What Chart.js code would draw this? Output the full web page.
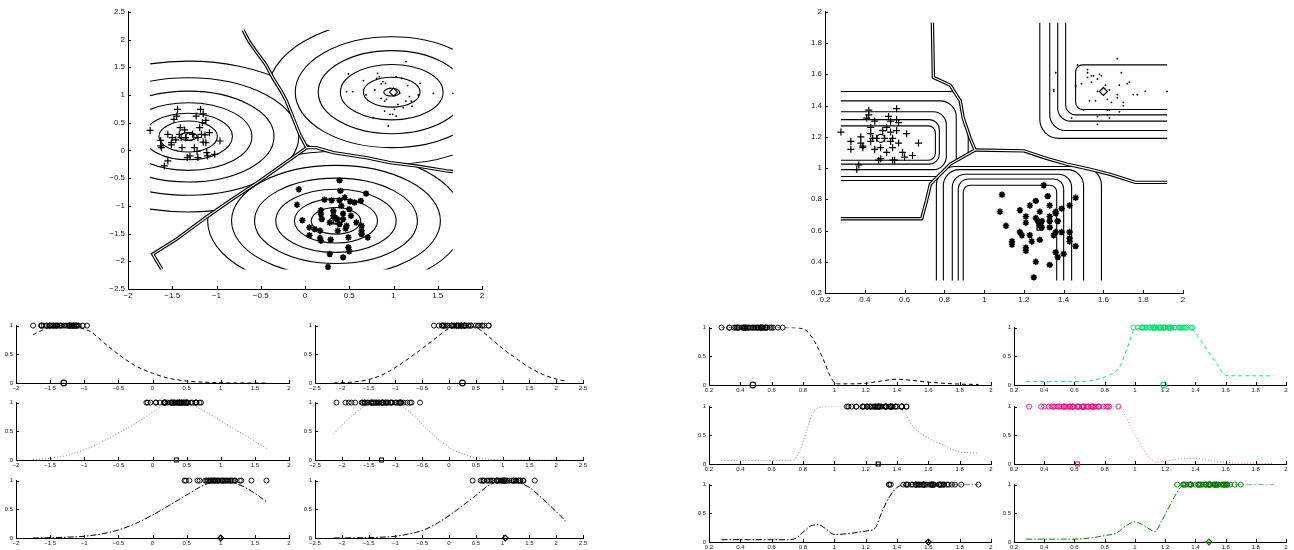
<!DOCTYPE html>
<html>
<head>
<meta charset="utf-8">
<script src="https://cdn.jsdelivr.net/npm/chart.js@4.4.0/dist/chart.umd.min.js"></script>
<style>
  html, body { margin: 0; padding: 0; background: #fff; }
  #wrap { position: relative; width: 1294px; height: 550px; overflow: hidden; background: #fff; }
  canvas { position: absolute; }
</style>
</head>
<body>
<div id="wrap"></div>
<script>
// ---- data ----

// left scatter: three clusters (+, *, .)
const L1 = [[-1.75,0.36],[-1.63,0.18],[-1.63,0.08],[-1.62,0.05],[-1.55,0.29],[-1.51,0.14],[-1.51,0.10],[-1.50,0.23],[-1.55,-0.19],[-1.59,-0.28],[-1.48,0.56],[-1.45,0.62],[-1.44,0.74],[-1.42,0.29],[-1.41,0.41],[-1.39,0.05],[-1.40,0.23],[-1.35,0.23],[-1.33,-0.13],[-1.30,-0.10],[-1.27,0.29],[-1.25,0.05],[-1.23,0.62],[-1.21,0.23],[-1.21,-0.13],[-1.19,0.41],[-1.18,0.74],[-1.17,0.29],[-1.16,0.50],[-1.15,0.66],[-1.15,0.15],[-1.12,0.54],[-1.12,0.14],[-1.11,-0.04],[-1.10,-0.10],[-1.08,0.32],[-1.02,-0.07],[-0.96,0.17],[-1.22,-0.02],[-1.46,0.19],[-1.36,0.37],[-1.13,0.28]];
const L2 = [[-0.07,-0.70],[-0.09,-0.98],[-0.03,-1.26],[0.05,-1.39],[0.05,-1.53],[0.11,-1.42],[0.17,-1.45],[0.17,-1.58],[0.18,-1.63],[0.18,-1.15],[0.18,-1.08],[0.19,-1.24],[0.22,-0.89],[0.28,-1.87],[0.29,-1.61],[0.30,-0.90],[0.32,-1.09],[0.32,-1.18],[0.34,-1.21],[0.36,-1.24],[0.37,-1.45],[0.39,-0.54],[0.39,-0.90],[0.40,-0.73],[0.41,-1.00],[0.43,-1.14],[0.43,-1.24],[0.45,-0.85],[0.46,-1.41],[0.47,-1.36],[0.49,-1.57],[0.49,-1.75],[0.50,-1.82],[0.50,-1.06],[0.51,-0.92],[0.52,-1.18],[0.56,-0.94],[0.58,-1.30],[0.63,-0.91],[0.64,-1.36],[0.64,-1.45],[0.64,-1.51],[0.69,-0.78],[0.71,-1.57],[0.43,-1.93],[0.26,-2.10],[0.39,-1.33],[0.28,-1.30]];
const L3 = [[0.47,1.06],[0.49,1.38],[0.54,1.06],[0.66,1.26],[0.69,1.00],[0.77,0.59],[0.79,1.09],[0.81,1.30],[0.82,1.39],[0.84,1.33],[0.86,1.20],[0.88,1.24],[0.90,0.89],[0.92,0.92],[0.91,1.21],[0.94,0.44],[0.96,0.65],[0.99,0.65],[1.01,0.74],[1.03,0.62],[1.03,1.33],[1.05,0.83],[1.07,1.03],[1.09,1.30],[1.11,0.77],[1.14,1.60],[1.14,0.89],[1.16,1.17],[1.18,0.97],[1.20,0.89],[1.21,0.80],[1.28,1.00],[1.30,1.21],[1.45,1.03],[1.67,1.03],[0.90,0.71],[0.96,1.12],[0.86,0.94]];
const LCEN = [[-1.3,0.25],[0.35,-1.26],[1.0,1.05]];

// left scatter: decision boundaries
const LB1 = [[0.02,0.05],[-0.06,0.29],[-0.12,0.53],[-0.21,0.89],[-0.27,1.07],[-0.36,1.30],[-0.44,1.54],[-0.55,1.78],[-0.63,1.96],[-0.70,2.17]];
const LB2 = [[0.02,0.05],[0.13,0.05],[0.32,-0.04],[0.69,-0.13],[0.96,-0.22],[1.26,-0.28],[1.60,-0.37],[1.67,-0.38]];
const LB3 = [[0.02,0.05],[-0.51,-0.55],[-0.85,-0.91],[-1.12,-1.21],[-1.45,-1.60],[-1.72,-1.87],[-1.62,-2.14]];

// left scatter: contour ellipses (centre, x radii, y radii)
const LE1 = { c: [-1.32,0.25], rx: [0.1,0.33,0.5,0.72,0.97,1.25,1.6], ry: [0.07,0.28,0.42,0.61,0.82,1.06,1.36] };
const LE2 = { c: [0.35,-1.27], rx: [0.08,0.28,0.47,0.68,0.92,1.18,1.45], ry: [0.06,0.24,0.4,0.57,0.77,1.0,1.25] };
const LE3 = { c: [0.98,1.05], rx: [0.09,0.32,0.58,0.83,1.09,1.4], ry: [0.07,0.27,0.5,0.75,1.0,1.3] };

// right scatter: three clusters
const R1 = [[0.28,1.23],[0.33,1.17],[0.33,1.12],[0.36,0.99],[0.37,1.02],[0.38,1.20],[0.38,1.16],[0.39,1.14],[0.39,1.13],[0.41,1.32],[0.42,1.34],[0.42,1.37],[0.43,1.22],[0.43,1.17],[0.43,1.26],[0.44,1.19],[0.45,1.12],[0.45,1.30],[0.46,1.19],[0.47,1.05],[0.48,1.06],[0.49,1.24],[0.50,1.19],[0.51,1.26],[0.51,1.10],[0.52,1.33],[0.53,1.17],[0.53,1.30],[0.54,1.05],[0.54,1.13],[0.55,1.05],[0.56,1.38],[0.56,1.31],[0.56,1.24],[0.57,1.16],[0.57,1.29],[0.59,1.10],[0.60,1.07],[0.61,1.22],[0.64,1.08],[0.67,1.16],[0.53,1.23],[0.54,1.19],[0.48,1.13]];
const R2 = [[1.30,0.89],[1.09,0.83],[1.32,0.82],[1.46,0.81],[1.26,0.79],[1.23,0.76],[1.33,0.76],[1.43,0.76],[1.39,0.74],[1.18,0.73],[1.28,0.72],[1.36,0.72],[1.36,0.71],[1.21,0.69],[1.33,0.69],[1.26,0.68],[1.27,0.66],[1.29,0.66],[1.28,0.65],[1.33,0.66],[1.37,0.66],[1.28,0.63],[1.29,0.62],[1.21,0.65],[1.33,0.62],[1.11,0.63],[1.18,0.59],[1.19,0.57],[1.36,0.59],[1.35,0.57],[1.39,0.59],[1.43,0.59],[1.43,0.55],[1.43,0.53],[1.46,0.50],[1.23,0.57],[1.24,0.53],[1.28,0.54],[1.14,0.53],[1.14,0.51],[1.21,0.49],[1.21,0.47],[1.36,0.46],[1.37,0.43],[1.40,0.45],[1.26,0.40],[1.33,0.38],[1.25,0.30],[1.08,0.72]];
const R3 = [[1.67,1.70],[1.47,1.66],[1.36,1.61],[1.52,1.63],[1.52,1.61],[1.54,1.59],[1.55,1.59],[1.58,1.60],[1.59,1.59],[1.52,1.58],[1.57,1.57],[1.54,1.55],[1.69,1.61],[1.49,1.54],[1.46,1.53],[1.46,1.52],[1.61,1.53],[1.68,1.53],[1.73,1.55],[1.72,1.54],[1.57,1.49],[1.63,1.50],[1.35,1.50],[1.35,1.49],[1.77,1.47],[1.75,1.47],[1.81,1.49],[1.92,1.49],[1.67,1.47],[1.67,1.45],[1.53,1.43],[1.56,1.43],[1.62,1.44],[1.64,1.42],[1.70,1.42],[1.70,1.40],[1.50,1.37],[1.62,1.37],[1.63,1.37],[1.68,1.36],[1.44,1.32],[1.57,1.33],[1.62,1.34],[1.63,1.32],[1.57,1.28]];
const RCEN = [[0.48,1.19],[1.28,0.62],[1.6,1.49]];

// right scatter: decision boundaries
const RB1 = [[0.955,1.115],[0.93,1.19],[0.895,1.32],[0.88,1.43],[0.83,1.53],[0.745,1.58],[0.74,1.93]];
const RB2 = [[0.955,1.115],[1.2,1.11],[1.3,1.067],[1.415,1.025],[1.53,0.993],[1.633,0.96],[1.76,0.908],[1.92,0.908]];
const RB3 = [[0.955,1.115],[0.83,1.025],[0.73,0.897],[0.71,0.79],[0.686,0.675],[0.28,0.675]];

// right scatter: rounded-rectangle contours [x0, x1, y0, y1]
const RR1 = [[-1,0.755,1.05,1.27],[-1,0.775,1.025,1.31],[-1,0.81,0.99,1.36],[-1,0.86,0.946,1.43],[-1,0.92,0.92,1.49]];
const RR2 = [[0.895,1.365,-1,0.89],[0.87,1.40,-1,0.93],[0.84,1.44,-1,0.96],[0.795,1.50,-1,0.99],[0.76,1.59,-1,1.01]];
const RR3 = [[1.46,3,1.375,1.66],[1.41,3,1.34,3],[1.37,3,1.30,3],[1.33,3,1.24,3],[1.28,3,1.19,3]];

// membership curves, left group
const LC1x = [-1.75,-1.6,-1.5,-1.4,-1.3,-1.2,-1.1,-1.0,-0.9,-0.75,-0.5,-0.25,0,0.25,0.5,0.75,1.0,1.25,1.5,1.67];
const LC1y = [0.84,0.93,0.97,0.99,1,0.99,0.97,0.94,0.89,0.74,0.5,0.3,0.17,0.08,0.035,0.015,0.005,0,0,0];
const LC2x = [-1.75,-1.5,-1.25,-1,-0.75,-0.5,-0.25,0,0.15,0.35,0.55,0.75,1,1.25,1.5,1.67];
const LC2y = [0.01,0.03,0.08,0.18,0.31,0.47,0.64,0.83,0.95,1,0.97,0.86,0.68,0.5,0.33,0.2];
const LC3x = [-1.75,-1.5,-1.25,-1,-0.75,-0.5,-0.25,0,0.25,0.5,0.75,0.9,1,1.1,1.25,1.5,1.67];
const LC3y = [0,0.005,0.015,0.03,0.07,0.14,0.25,0.4,0.57,0.75,0.92,0.98,1,0.99,0.94,0.78,0.63];
const LD1x = [-2.15,-1.75,-1.5,-1.25,-1,-0.75,-0.5,-0.25,0,0.25,0.5,0.75,1,1.25,1.5,1.75,2,2.2];
const LD1y = [0,0.02,0.06,0.14,0.27,0.43,0.6,0.78,0.95,1,0.97,0.8,0.6,0.43,0.27,0.15,0.07,0.03];
const LD2x = [-2.15,-2,-1.75,-1.5,-1.25,-1,-0.75,-0.5,-0.25,0,0.25,0.5,0.75,1,1.5,2,2.2];
const LD2y = [0.46,0.6,0.82,0.97,1,0.97,0.85,0.62,0.4,0.22,0.11,0.04,0.015,0.005,0,0,0];
const LD3x = [-2.15,-1.75,-1.5,-1.25,-1,-0.75,-0.5,-0.25,0,0.25,0.5,0.75,1,1.25,1.5,1.75,2,2.2];
const LD3y = [0,0.003,0.007,0.015,0.03,0.07,0.13,0.24,0.39,0.56,0.74,0.92,1,0.98,0.88,0.68,0.46,0.27];

// membership curves, right group
const RC1x = [0.28,0.4,0.5,0.6,0.7,0.78,0.82,0.86,0.9,0.94,0.98,1.02,1.1,1.2,1.3,1.4,1.5,1.6,1.7,1.8,1.92];
const RC1y = [1,1,1,1,1,0.99,0.95,0.82,0.62,0.38,0.12,0.02,0.02,0.03,0.07,0.1,0.08,0.05,0.03,0.015,0.01];
const RC2x = [0.28,0.4,0.5,0.6,0.7,0.74,0.78,0.82,0.86,0.9,1,1.1,1.2,1.3,1.4,1.45,1.5,1.6,1.7,1.8,1.92];
const RC2y = [0.06,0.06,0.06,0.06,0.06,0.07,0.24,0.55,0.87,0.98,1,1,1,1,1,0.88,0.66,0.45,0.33,0.21,0.19];
const RC3x = [0.28,0.4,0.5,0.6,0.7,0.75,0.8,0.85,0.9,0.95,1.0,1.1,1.2,1.26,1.3,1.35,1.42,1.5,1.7,1.92];
const RC3y = [0.04,0.04,0.04,0.04,0.04,0.06,0.17,0.28,0.3,0.22,0.13,0.15,0.19,0.24,0.5,0.78,0.98,1,1,1];
const RD1x = [0.28,0.4,0.5,0.6,0.66,0.75,0.8,0.85,0.9,0.95,1.0,1.1,1.2,1.3,1.36,1.42,1.48,1.54,1.6,1.7,1.8,1.92];
const RD1y = [0.06,0.06,0.06,0.06,0.06,0.1,0.14,0.2,0.32,0.65,0.97,1,1,1,1,0.84,0.6,0.38,0.17,0.16,0.16,0.16];
const RD2x = [0.28,0.5,0.7,0.89,0.94,0.98,1.02,1.06,1.1,1.14,1.2,1.3,1.35,1.4,1.5,1.6,1.7,1.8,1.92];
const RD2y = [1,1,1,1,0.82,0.6,0.42,0.24,0.1,0.03,0.05,0.09,0.1,0.1,0.06,0.03,0.015,0.01,0.01];
const RD3x = [0.28,0.4,0.5,0.6,0.7,0.8,0.88,0.94,1.0,1.05,1.1,1.13,1.18,1.22,1.26,1.3,1.35,1.5,1.7,1.92];
const RD3y = [0.05,0.05,0.05,0.05,0.07,0.11,0.16,0.28,0.35,0.3,0.22,0.18,0.38,0.58,0.78,0.95,1,1,1,1];

// tick labels
const ticksL = [-2,-1.5,-1,-0.5,0,0.5,1,1.5,2];
const ticksL5 = [-2.5,-2,-1.5,-1,-0.5,0,0.5,1,1.5,2,2.5];
const ticksR = [0.2,0.4,0.6,0.8,1,1.2,1.4,1.6,1.8,2];
const ticks01 = [0,0.5,1];

// ---- helpers ----
const FONT = "'Liberation Sans', Arial, sans-serif";
const wrap = document.getElementById('wrap');

function fmt(v) {
  return String(Math.round(v * 100) / 100).replace('-', '\u2212');
}

function addCanvas(x, y, w, h) {
  const c = document.createElement('canvas');
  c.width = w; c.height = h;
  c.style.left = x + 'px'; c.style.top = y + 'px';
  c.style.width = w + 'px'; c.style.height = h + 'px';
  wrap.appendChild(c);
  return c;
}

function xy(arr) { return arr.map(p => ({ x: p[0], y: p[1] })); }
function curve(xs, ys) { return xs.map((v, i) => ({ x: v, y: ys[i] })); }

// small inward tick marks, MATLAB style
const inTicks = {
  id: 'inTicks',
  afterDraw(chart) {
    const { ctx, chartArea: a, scales: { x, y } } = chart;
    ctx.save();
    ctx.strokeStyle = '#000';
    ctx.lineWidth = 1;
    x.ticks.forEach(t => {
      const p = Math.round(x.getPixelForValue(t.value)) + 0.5;
      ctx.beginPath(); ctx.moveTo(p, a.bottom); ctx.lineTo(p, a.bottom - 3); ctx.stroke();
    });
    y.ticks.forEach(t => {
      const p = Math.round(y.getPixelForValue(t.value)) + 0.5;
      ctx.beginPath(); ctx.moveTo(a.left, p); ctx.lineTo(a.left + 3, p); ctx.stroke();
    });
    ctx.restore();
  }
};

function axes(xmin, xmax, xt, ymin, ymax, yt, fs, yw, xh) {
  const tk = { font: { family: FONT, size: fs }, color: '#222', autoSkip: false, maxRotation: 0, callback: v => fmt(v) };
  return {
    x: {
      type: 'linear', min: xmin, max: xmax,
      afterBuildTicks: s => { s.ticks = xt.map(v => ({ value: v })); },
      afterFit: s => { s.height = xh; },
      grid: { display: false, drawTicks: false },
      border: { display: true, color: '#000', width: 1 },
      ticks: Object.assign({ padding: 2 }, tk)
    },
    y: {
      type: 'linear', min: ymin, max: ymax,
      afterBuildTicks: s => { s.ticks = yt.map(v => ({ value: v })); },
      afterFit: s => { s.width = yw; },
      grid: { display: false, drawTicks: false },
      border: { display: true, color: '#000', width: 1 },
      ticks: Object.assign({ padding: 3 }, tk)
    }
  };
}

function baseOptions(scales, pad) {
  return {
    responsive: false, animation: false, events: [],
    layout: { padding: pad },
    plugins: { legend: { display: false }, tooltip: { enabled: false } },
    scales: scales
  };
}

// contour layer clipped to each cluster's region
function contourPlugin(domain, regions) {
  return {
    id: 'contours',
    beforeDatasetsDraw(chart) {
      const { ctx, scales: { x, y } } = chart;
      const px = v => x.getPixelForValue(v), py = v => y.getPixelForValue(v);
      ctx.save();
      ctx.beginPath();
      ctx.rect(px(domain[0]), py(domain[3]), px(domain[1]) - px(domain[0]), py(domain[2]) - py(domain[3]));
      ctx.clip();
      ctx.strokeStyle = '#000';
      ctx.lineWidth = 1.1;
      regions.forEach(reg => {
        ctx.save();
        ctx.beginPath();
        reg.poly.forEach((p, i) => i ? ctx.lineTo(px(p[0]), py(p[1])) : ctx.moveTo(px(p[0]), py(p[1])));
        ctx.closePath();
        ctx.clip();
        reg.draw(ctx, px, py);
        ctx.restore();
      });
      ctx.restore();
    }
  };
}

function ellipses(e) {
  return (ctx, px, py) => {
    const cx = px(e.c[0]), cy = py(e.c[1]);
    e.rx.forEach((r, i) => {
      ctx.beginPath();
      ctx.ellipse(cx, cy, Math.abs(px(e.c[0] + r) - cx), Math.abs(py(e.c[1] + e.ry[i]) - cy), 0, 0, Math.PI * 2);
      ctx.stroke();
    });
  };
}

function roundRects(list) {
  return (ctx, px, py) => {
    list.forEach((q, i) => {
      const l = px(q[0]), r = px(q[1]), t = py(q[3]), b = py(q[2]);
      const rad = Math.min(7 + i * 3, (r - l) / 2, (b - t) / 2);
      ctx.beginPath();
      ctx.moveTo(l + rad, t);
      ctx.arcTo(r, t, r, b, rad);
      ctx.arcTo(r, b, l, b, rad);
      ctx.arcTo(l, b, l, t, rad);
      ctx.arcTo(l, t, r, t, rad);
      ctx.closePath();
      ctx.stroke();
    });
  };
}

function boundarySets(list) {
  const out = [];
  list.forEach(b => {
    out.push({ data: xy(b), showLine: true, borderColor: '#000', borderWidth: 3.4, pointRadius: 0, order: 6 });
    out.push({ data: xy(b), showLine: true, borderColor: '#fff', borderWidth: 1.1, pointRadius: 0, order: 5 });
  });
  return out;
}

function rev(a) { return a.slice().reverse(); }

// ---- top-left scatter ----
(function () {
  const box = { l: 128, t: 10, r: 482, b: 289 }, YW = 28, XH = 16, PT = 6, PR = 14;
  const c = addCanvas(box.l - YW, box.t - PT, box.r - box.l + YW + PR, box.b - box.t + PT + XH);
  const J = LB1[0];
  const regions = [
    { poly: [[-0.70, 3]].concat(rev(LB1), LB3.slice(1), [[-1.62, -3], [-3, -3], [-3, 3]]), draw: ellipses(LE1) },
    { poly: LB2.concat([[3, -0.38], [3, -3], [-1.62, -3]], rev(LB3).slice(0, -1)), draw: ellipses(LE2) },
    { poly: LB1.concat([[-0.70, 3], [3, 3], [3, -0.38]], rev(LB2).slice(0, -1)), draw: ellipses(LE3) }
  ];
  const ds = [
    { data: xy(LCEN.slice(0, 1)), pointStyle: 'circle', pointRadius: 4, borderColor: '#000', backgroundColor: 'rgba(0,0,0,0)', borderWidth: 1.2, order: 0 },
    { data: xy(LCEN.slice(1, 2)), pointStyle: 'rect', pointRadius: 4, borderColor: '#000', backgroundColor: 'rgba(0,0,0,0)', borderWidth: 1.2, order: 0 },
    { data: xy(LCEN.slice(2, 3)), pointStyle: 'rectRot', pointRadius: 4, borderColor: '#000', backgroundColor: 'rgba(0,0,0,0)', borderWidth: 1.2, order: 0 },
    { data: xy(L1), pointStyle: 'cross', pointRadius: 3.5, borderColor: '#000', borderWidth: 1.2, order: 1 },
    { data: xy(L2), pointStyle: 'star', pointRadius: 3.2, borderColor: '#000', borderWidth: 1.6, order: 1 },
    { data: xy(L3), pointStyle: 'circle', pointRadius: 0.9, borderWidth: 0, backgroundColor: '#000', order: 1 }
  ].concat(boundarySets([LB1, LB2, LB3]));
  new Chart(c, {
    type: 'scatter',
    data: { datasets: ds },
    options: baseOptions(axes(-2, 2, ticksL, -2.5, 2.5, ticksL5, 8, YW, XH), { top: PT, right: PR, left: 0, bottom: 0 }),
    plugins: [contourPlugin([-1.75, 1.67, -2.15, 2.17], regions), inTicks]
  });
})();

// ---- top-right scatter ----
(function () {
  const box = { l: 825, t: 10, r: 1183, b: 293 }, YW = 28, XH = 16, PT = 6, PR = 14;
  const c = addCanvas(box.l - YW, box.t - PT, box.r - box.l + YW + PR, box.b - box.t + PT + XH);
  const regions = [
    { poly: [[0.74, 3]].concat(rev(RB1), RB3.slice(1), [[-1, 0.675], [-1, 3]]), draw: roundRects(RR1) },
    { poly: RB2.concat([[3, 0.908], [3, -1], [-1, -1], [-1, 0.675]], rev(RB3).slice(0, -1)), draw: roundRects(RR2) },
    { poly: RB1.concat([[0.74, 3], [3, 3], [3, 0.908]], rev(RB2).slice(0, -1)), draw: roundRects(RR3) }
  ];
  const ds = [
    { data: xy(RCEN.slice(0, 1)), pointStyle: 'circle', pointRadius: 4, borderColor: '#000', backgroundColor: 'rgba(0,0,0,0)', borderWidth: 1.2, order: 0 },
    { data: xy(RCEN.slice(1, 2)), pointStyle: 'rect', pointRadius: 4, borderColor: '#000', backgroundColor: 'rgba(0,0,0,0)', borderWidth: 1.2, order: 0 },
    { data: xy(RCEN.slice(2, 3)), pointStyle: 'rectRot', pointRadius: 4, borderColor: '#000', backgroundColor: 'rgba(0,0,0,0)', borderWidth: 1.2, order: 0 },
    { data: xy(R1), pointStyle: 'cross', pointRadius: 3.5, borderColor: '#000', borderWidth: 1.2, order: 1 },
    { data: xy(R2), pointStyle: 'star', pointRadius: 3.2, borderColor: '#000', borderWidth: 1.6, order: 1 },
    { data: xy(R3), pointStyle: 'circle', pointRadius: 0.9, borderWidth: 0, backgroundColor: '#000', order: 1 }
  ].concat(boundarySets([RB1, RB2, RB3]));
  new Chart(c, {
    type: 'scatter',
    data: { datasets: ds },
    options: baseOptions(axes(0.2, 2, ticksR, 0.2, 2, ticksR, 8, YW, XH), { top: PT, right: PR, left: 0, bottom: 0 }),
    plugins: [contourPlugin([0.28, 1.92, 0.28, 1.93], regions), inTicks]
  });
})();

// ---- small membership panels ----
const DASH = [[4, 3], [1, 2], [6, 2, 1.5, 2]];
const SHAPES = ['circle', 'rect', 'rectRot'];

function small(box, xr, xt, vals, centre, shape, cx, cy, dash, lineColor, markColor) {
  const YW = 16, XH = 11, PT = 5, PR = 8;
  const c = addCanvas(box.l - YW, box.t - PT, box.r - box.l + YW + PR, box.b - box.t + PT + XH);
  const ds = [
    { data: [{ x: centre, y: 0 }], pointStyle: shape, pointRadius: 2.8, borderColor: markColor, backgroundColor: 'rgba(0,0,0,0)', borderWidth: 1.2, clip: false, order: 0 },
    { data: vals.map(v => ({ x: v, y: 1 })), pointStyle: 'circle', pointRadius: 2.5, borderColor: markColor, backgroundColor: 'rgba(0,0,0,0)', borderWidth: 0.9, clip: false, order: 1 },
    { data: curve(cx, cy), showLine: true, pointRadius: 0, borderColor: lineColor, borderWidth: 1, borderDash: dash, cubicInterpolationMode: 'monotone', order: 2 }
  ];
  new Chart(c, {
    type: 'scatter',
    data: { datasets: ds },
    options: baseOptions(axes(xr[0], xr[1], xt, 0, 1, ticks01, 6, YW, XH), { top: PT, right: PR, left: 0, bottom: 0 }),
    plugins: [inTicks]
  });
}

const rowsL = [[324, 383], [401, 460], [479, 538]];
const rowsR = [[326, 385], [405, 464], [483, 542]];
const Lpts = [L1, L2, L3], Rpts = [R1, R2, R3];
const LCx = [[LC1x, LC1y], [LC2x, LC2y], [LC3x, LC3y]];
const LDx = [[LD1x, LD1y], [LD2x, LD2y], [LD3x, LD3y]];
const RCx = [[RC1x, RC1y], [RC2x, RC2y], [RC3x, RC3y]];
const RDx = [[RD1x, RD1y], [RD2x, RD2y], [RD3x, RD3y]];
const greyRow = ['#000', '#8a8a8a', '#000'];
const colLine = ['#00ee77', '#ff66b3', '#008800'];
const colMark = ['#00e070', '#ff0a84', '#007a00'];

for (let i = 0; i < 3; i++) {
  small({ l: 16, r: 289, t: rowsL[i][0], b: rowsL[i][1] }, [-2, 2], ticksL, Lpts[i].map(p => p[0]), LCEN[i][0], SHAPES[i], LCx[i][0], LCx[i][1], DASH[i], greyRow[i], '#000');
  small({ l: 315, r: 583, t: rowsL[i][0], b: rowsL[i][1] }, [-2.5, 2.5], ticksL5, Lpts[i].map(p => p[1]), LCEN[i][1], SHAPES[i], LDx[i][0], LDx[i][1], DASH[i], greyRow[i], '#000');
  small({ l: 709, r: 991, t: rowsR[i][0], b: rowsR[i][1] }, [0.2, 2], ticksR, Rpts[i].map(p => p[0]), RCEN[i][0], SHAPES[i], RCx[i][0], RCx[i][1], DASH[i], greyRow[i], '#000');
  small({ l: 1014, r: 1286, t: rowsR[i][0], b: rowsR[i][1] }, [0.2, 2], ticksR, Rpts[i].map(p => p[1]), RCEN[i][1], SHAPES[i], RDx[i][0], RDx[i][1], DASH[i], colLine[i], colMark[i]);
}
</script>
</body>
</html>
